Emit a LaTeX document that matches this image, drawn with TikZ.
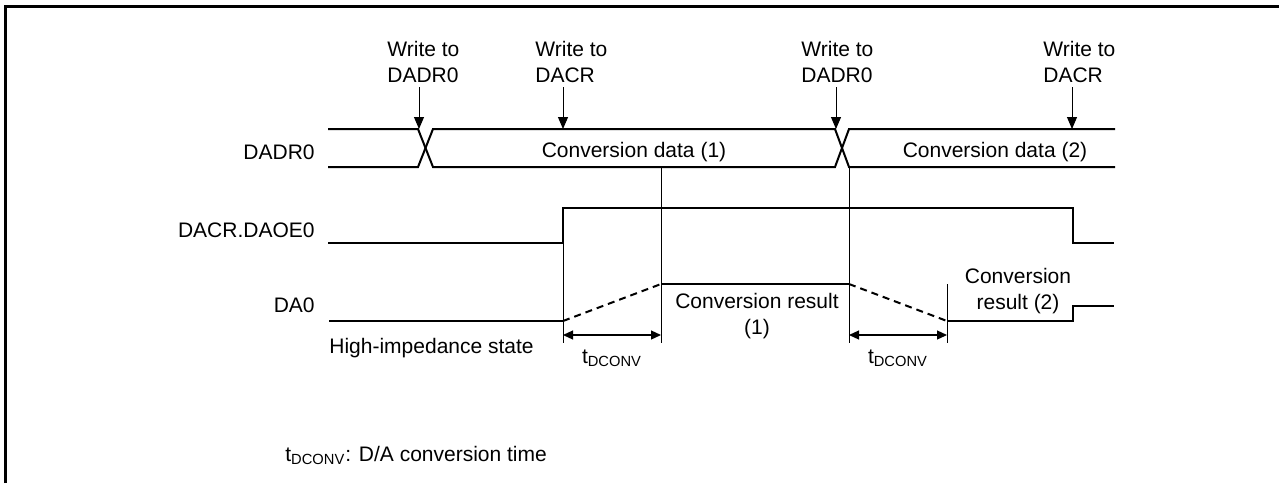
\documentclass[tikz,border=0pt]{standalone}
\usepackage{fontspec}
\setmainfont{Liberation Sans}
\usepackage{xcolor}
\usepackage{tikz}
\usetikzlibrary{arrows.meta, positioning}
\newcommand{\fs}{\fontsize{10.5}{13}\selectfont}
\newcommand{\tdconv}{t\textsubscript{DCONV}}

\begin{document}
\begin{tikzpicture}[x=0.5pt, y=-0.5pt,
  frame/.style={line width=1.5pt, line join=miter},
  sig/.style={line width=1pt, line join=miter},
  guide/.style={line width=0.5pt},
  slope/.style={line width=1pt, dash pattern=on 3.5pt off 2.5pt},
  wr/.style={line width=0.5pt, -{Triangle[length=6pt, width=5pt]}},
  span/.style={line width=0.6pt, {Triangle[length=5pt, width=4.5pt]}-{Triangle[length=5pt, width=4.5pt]}},
  lbl/.style={font=\fs, inner sep=0pt}
]
\useasboundingbox (0,0) rectangle (1279,483);
\draw[frame] (5.5,483) -- (5.5,6.5) -- (1279,6.5);

% signal names
\node[lbl, anchor=base east] (nDADR) at (315,159) {DADR0};
\node[lbl, anchor=base east] (nDAOE) at (315,237) {DACR.DAOE0};
\node[lbl, anchor=base east] (nDA)   at (315,312) {DA0};

% write events
\node[lbl, align=left, anchor=north west] (w1) at (387,41)  {Write to\\DADR0};
\node[lbl, align=left, anchor=north west] (w2) at (535,41)  {Write to\\DACR};
\node[lbl, align=left, anchor=north west] (w3) at (801,41)  {Write to\\DADR0};
\node[lbl, align=left, anchor=north west] (w4) at (1043,41) {Write to\\DACR};
\coordinate (e1) at (419,129);
\coordinate (e2) at (563,129);
\coordinate (e3) at (836,129);
\coordinate (e4) at (1072,129);
\draw[wr] (e1 |- 0,87) -- (e1);
\draw[wr] (e2 |- 0,87) -- (e2);
\draw[wr] (e3 |- 0,87) -- (e3);
\draw[wr] (e4 |- 0,87) -- (e4);

% DADR0 bus
\draw[sig] (328,129) -- (418,129) -- (433,167) -- (835,167) -- (849,129) -- (1115,129);
\draw[sig] (328,167) -- (418,167) -- (433,129) -- (835,129) -- (849,167) -- (1115,167);
\node[lbl, anchor=base] (d1) at (634,157) {Conversion data (1)};
\node[lbl, anchor=base] (d2) at (995,157) {Conversion data (2)};

% DACR.DAOE0
\draw[sig] (328,243) -- (563,243) -- (563,208) -- (1073,208) -- (1073,243) -- (1114,243);

% DA0
\draw[sig] (329,321) -- (563,321);
\draw[slope] (563,321) -- (661,284);
\draw[sig] (661,284) -- (849,284);
\draw[slope] (849,284) -- (947,321);
\draw[sig] (947,321) -- (1073,321) -- (1073,306) -- (1114,306);

% guides
\draw[guide] (563,208) -- (563,343);
\draw[guide] (661,167) -- (661,343);
\draw[guide] (849,167) -- (849,343);
\draw[guide] (947,284) -- (947,343);
\coordinate (s1) at (563,335);
\coordinate (s2) at (661,335);
\coordinate (s3) at (849,335);
\coordinate (s4) at (947,335);
\draw[span] (s1) -- (s2);
\draw[span] (s3) -- (s4);
\node[lbl, anchor=base] (c1) at (612,363) {\tdconv};
\node[lbl, anchor=base] (c2) at (898,363) {\tdconv};

\node[lbl, anchor=base west] (hz) at (329,353) {High-impedance state};
\node[lbl, align=center, anchor=north] (r1) at (757,293) {Conversion result\\(1)};
\node[lbl, align=center, anchor=north] (r2) at (1018,268) {Conversion\\result (2)};

\node[lbl, anchor=base west] (note) at (285,461) {\tdconv: D/A conversion time};
\end{tikzpicture}
\end{document}
